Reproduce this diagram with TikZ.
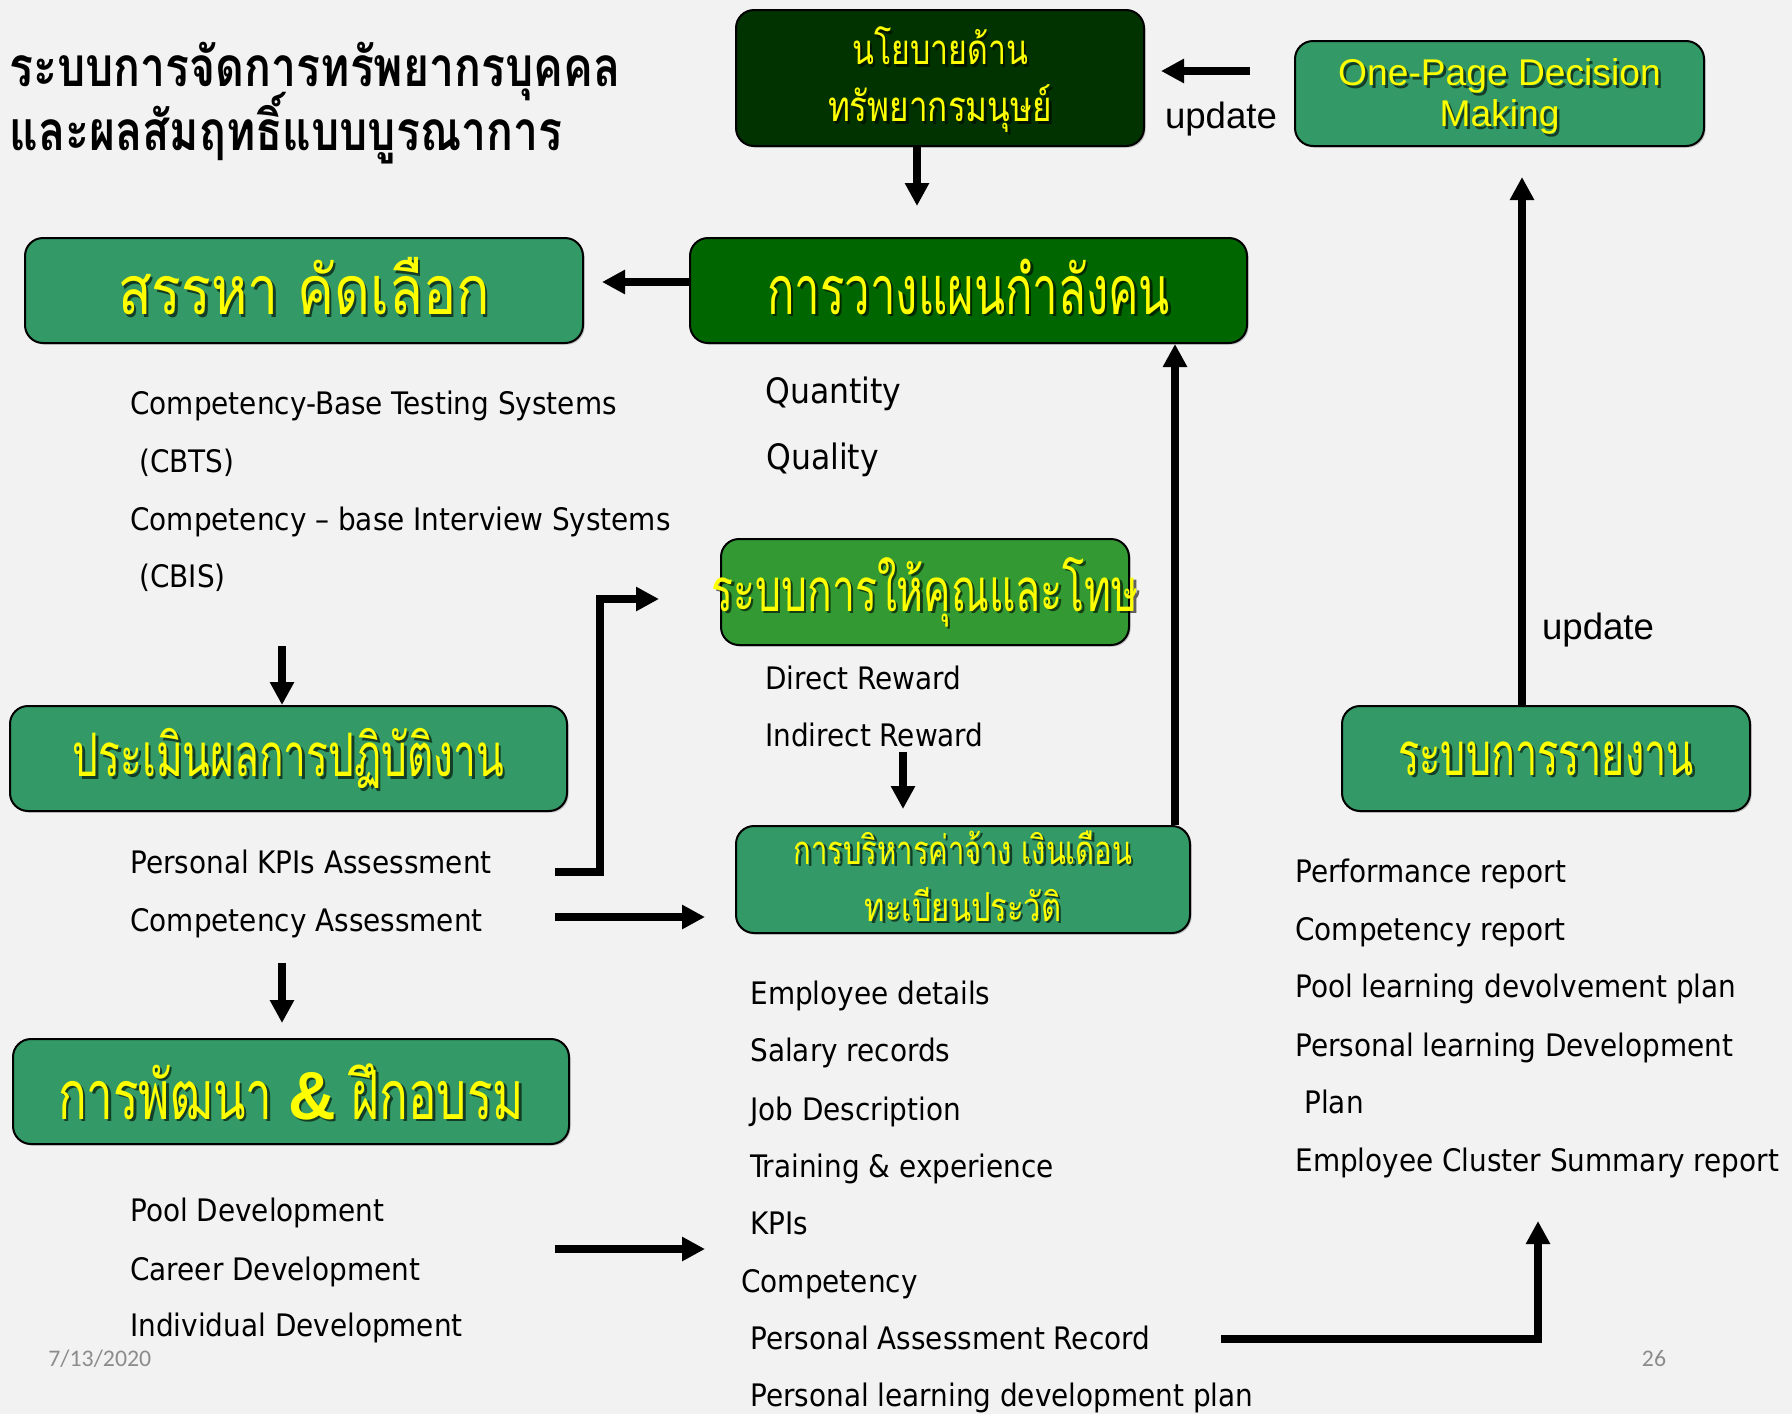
\documentclass[tikz,border=0pt]{standalone}
\usepackage{fontspec}
\usetikzlibrary{arrows.meta,calc,shadows}
\newfontfamily\listfont{DejaVu Sans Condensed}
\newfontfamily\arialfont{Liberation Sans}
\newfontfamily\footfont{Carlito}
\newfontfamily\boxthai[Script=Thai,FakeStretch=0.72]{Loma}
\newfontfamily\titlethai[Script=Thai]{Loma}
\definecolor{bgc}{HTML}{F2F2F2}
\definecolor{policyc}{HTML}{003300}
\definecolor{planc}{HTML}{006600}
\definecolor{midc}{HTML}{339966}
\definecolor{rewardc}{HTML}{339933}
\definecolor{ylw}{HTML}{FFFF00}
\definecolor{footc}{HTML}{8C8C8C}
\tikzset{
  hrbox/.style={draw=black, line width=1pt, rounded corners=9pt, inner sep=0pt,
    drop shadow={shadow xshift=0.8pt, shadow yshift=-0.8pt, opacity=0.45}},
  lab/.style={text=ylw, align=center, inner sep=0pt},
  labshadow/.style={lab, text=black, opacity=0.6, xshift=1.3pt, yshift=-1.3pt},
  listtxt/.style={font=\listfont\fontsize{15.5}{18}\selectfont, anchor=mid west, inner sep=0pt, yshift=-3.5pt},
  bigtxt/.style={listtxt, font=\listfont\fontsize{17.5}{20}\selectfont},
  headline/.style={anchor=base west, inner sep=0pt, font=\titlethai\bfseries\fontsize{27.5}{30}\selectfont},
  updtxt/.style={font=\arialfont\fontsize{18.3}{22}\selectfont, inner sep=0pt},
  foottxt/.style={font=\footfont\fontsize{11.9}{14}\selectfont, text=footc, inner sep=0pt},
  arr/.style={line width=3.7pt, -{Triangle[length=11.5pt,width=11.5pt]}},
  bigthai/.style={font=\boxthai\fontsize{34}{40}\selectfont},
  midthai/.style={font=\boxthai\fontsize{30}{36}\selectfont},
  smallthai/.style={font=\boxthai\fontsize{21}{24}\selectfont},
  tinythai/.style={font=\boxthai\fontsize{20}{24}\selectfont},
}
% yellow box caption with a dark drop shadow behind it
\newcommand{\boxcaption}[5]{% name, position, style, horizontal scale, text
  \node[labshadow, #3] (#1-s) at (#2) {\scalebox{#4}[1]{#5}};
  \node[lab, #3] (#1) at (#2) {\scalebox{#4}[1]{#5}};}
\begin{document}
\begin{tikzpicture}[x=0.5pt, y=-0.5pt]
\fill[bgc] (0,0) rectangle (1792,1414);
\useasboundingbox (0,0) rectangle (1792,1414);

% heading
\node[headline] (heading1) at (9,86) {\scalebox{0.81}[1]{ระบบการจัดการทรัพยากรบุคคล}};
\node[headline] (heading2) at (9,150) {\scalebox{0.81}[1]{และผลสัมฤทธิ์แบบบูรณาการ}};

% boxes
\node[hrbox, fill=policyc, minimum width=204pt, minimum height=68pt] (policy) at (940,78) {};
\node[hrbox, fill=midc, minimum width=204.5pt, minimum height=52.5pt] (onepage) at (1499.5,93.5) {};
\node[hrbox, fill=midc, minimum width=279pt, minimum height=52.5pt] (recruit) at (304,290.5) {};
\node[hrbox, fill=planc, minimum width=278.5pt, minimum height=52.5pt] (plan) at (968.5,290.5) {};
\node[hrbox, fill=rewardc, minimum width=204pt, minimum height=53pt] (reward) at (925,592) {};
\node[hrbox, fill=midc, minimum width=227pt, minimum height=53.5pt] (payroll) at (963,879.5) {};
\node[hrbox, fill=midc, minimum width=278.5pt, minimum height=52.5pt] (appraise) at (288.5,758.5) {};
\node[hrbox, fill=midc, minimum width=278pt, minimum height=52.5pt] (develop) at (291,1091.5) {};
\node[hrbox, fill=midc, minimum width=204pt, minimum height=52.5pt] (reporting) at (1546,758.5) {};

% captions
\boxcaption{policy-t1}{$(policy.center)+(0,-32)$}{smallthai}{1.06}{นโยบายด้าน}
\boxcaption{policy-t2}{$(policy.center)+(0,31)$}{smallthai}{1.1}{ทรัพยากรมนุษย์}
\boxcaption{onepage-t}{$(onepage.center)+(0,3)$}{font=\arialfont\fontsize{18.6}{20.5}\selectfont}{1}{\shortstack{One-Page Decision\\Making}}
\boxcaption{recruit-t}{$(recruit.center)+(0,-4)$}{bigthai}{1.13}{สรรหา คัดเลือก}
\boxcaption{plan-t}{$(plan.center)+(0,-4)$}{bigthai}{0.93}{การวางแผนกำลังคน}
\boxcaption{reward-t}{reward.center}{midthai}{0.947}{ระบบการให้คุณและโทษ}
\boxcaption{payroll-t1}{$(payroll.center)+(0,-32)$}{tinythai}{1.01}{การบริหารค่าจ้าง เงินเดือน}
\boxcaption{payroll-t2}{$(payroll.center)+(0,25)$}{tinythai}{1.07}{ทะเบียนประวัติ}
\boxcaption{appraise-t}{appraise.center}{midthai}{0.94}{ประเมินผลการปฏิบัติงาน}
\boxcaption{develop-t}{develop.center}{bigthai}{0.97}{การพัฒนา {\arialfont\bfseries\&} ฝึกอบรม}
\boxcaption{reporting-t}{reporting.center}{midthai}{0.915}{ระบบการรายงาน}

% item lists
\node[listtxt] (cbts) at (130,403) {Competency-Base Testing Systems};
\node[listtxt] (cbts2) at (139,461) {(CBTS)};
\node[listtxt] (cbis) at (130,519) {Competency – base Interview Systems};
\node[listtxt] (cbis2) at (139,576) {(CBIS)};
\node[bigtxt] (quantity) at (765,392) {Quantity};
\node[bigtxt] (quality) at (766,458) {Quality};
\node[listtxt] (direct) at (765,678) {Direct Reward};
\node[listtxt] (indirect) at (765,735) {Indirect Reward};
\node[listtxt] (kpiassess) at (130,862) {Personal KPIs Assessment};
\node[listtxt] (compassess) at (130,920) {Competency Assessment};
\node[listtxt] (pool) at (130,1210) {Pool Development};
\node[listtxt] (career) at (130,1269) {Career Development};
\node[listtxt] (individual) at (130,1325) {Individual Development};
\node[listtxt] (emp) at (750,993) {Employee details};
\node[listtxt] (salary) at (750,1050) {Salary records};
\node[listtxt] (job) at (750,1109) {Job Description};
\node[listtxt] (training) at (750,1166) {Training \& experience};
\node[listtxt] (kpis) at (750,1223) {KPIs};
\node[listtxt] (comp) at (741,1281) {Competency};
\node[listtxt] (pers) at (750,1338) {Personal Assessment Record};
\node[listtxt] (plp) at (750,1395) {Personal learning development plan};
\node[listtxt] (perfrep) at (1295,871) {Performance report};
\node[listtxt] (comprep) at (1295,929) {Competency report};
\node[listtxt] (poolrep) at (1295,986) {Pool learning devolvement plan};
\node[listtxt] (plrep) at (1295,1045) {Personal learning Development};
\node[listtxt] (plrep2) at (1304,1102) {Plan};
\node[listtxt] (clusrep) at (1295,1160) {Employee Cluster Summary report};

% update labels
\node[updtxt] (upd1) at (1221,119) {update};
\node[updtxt] (upd2) at (1598,630) {update};

% footer
\node[foottxt, anchor=west] (date) at (48,1359) {7/13/2020};
\node[foottxt] (pageno) at (1654,1359) {26};

% connector end points
\coordinate (policyEnd) at (917,206);
\coordinate (updStart) at (1250,71);
\coordinate (updEnd) at (1161,71);
\coordinate (recruitEnd) at (602,282);
\coordinate (appraiseIn) at (282,646);
\coordinate (kpiStart) at (555,872);
\coordinate (kpiBend) at (600,872);
\coordinate (kpiEnd) at (659,599);
\coordinate (compStart) at (555,917);
\coordinate (compEnd) at (705,917);
\coordinate (developIn) at (282,963);
\coordinate (devEnd) at (282,1023);
\coordinate (poolStart) at (555,1249);
\coordinate (poolEnd) at (705,1249);
\coordinate (rewardDown) at (903,752);
\coordinate (rewardEnd) at (903,809);
\coordinate (payUp) at (1175,0);
\coordinate (persStart) at (1221,1339);
\coordinate (persBend) at (1538,1339);
\coordinate (persEnd) at (1538,1221);
\coordinate (repUp) at (1522,177);

% connectors
\draw[arr] (policyEnd |- policy.south) -- (policyEnd);
\draw[arr] (updStart) -- (updEnd);
\draw[arr] (recruitEnd -| plan.west) -- (recruitEnd);
\draw[arr] (appraiseIn) -- (appraiseIn |- appraise.north);
\draw[arr] (kpiStart) -- (kpiBend) -- (kpiBend |- kpiEnd) -- (kpiEnd);
\draw[arr] (compStart) -- (compEnd);
\draw[arr] (developIn) -- (devEnd);
\draw[arr] (poolStart) -- (poolEnd);
\draw[arr] (rewardDown) -- (rewardEnd);
\draw[arr] (payUp |- payroll.north) -- (payUp |- plan.south);
\draw[arr] (persStart) -- (persBend) -- (persEnd);
\draw[arr] (repUp |- reporting.north) -- (repUp);
\end{tikzpicture}
\end{document}
